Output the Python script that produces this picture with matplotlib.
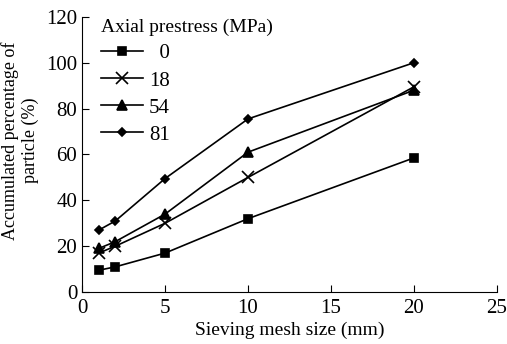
import numpy as np
import matplotlib.pyplot as plt

plt.rcParams['font.family'] = ['Liberation Serif', 'DejaVu Serif']
plt.rcParams['font.size'] = 14

# sieving mesh size (mm)
mesh = [1, 2, 5, 10, 20]

# accumulated percentage for each axial prestress
p0 = [9.5, 11, 17, 32, 58.5]
p18 = [17, 20, 30, 50, 89.5]
p54 = [19, 22, 34, 61, 88]
p81 = [27, 31, 49.5, 75.5, 100]

labels = ['  0', '18', '54', '81']
markers = ['s', 'x', '^', 'D']
sizes = [6, 8, 7, 4.5]

fig = plt.figure(figsize=(5.07, 3.44), dpi=100)
ax = fig.add_axes([0.162, 0.151, 0.818, 0.80])

for y, lab, m, s in zip([p0, p18, p54, p81], labels, markers, sizes):
    ax.plot(mesh, y, color='black', lw=1.2, marker=m, ms=s,
            mew=1.2, label=lab)

ax.set_xlim(0, 25)
ax.set_ylim(0, 120)
ax.set_xticks([0, 5, 10, 15, 20, 25])
ax.set_yticks([0, 20, 40, 60, 80, 100, 120])
ax.spines['top'].set_visible(False)
ax.spines['right'].set_visible(False)
ax.tick_params(direction='in', length=5, labelsize=15)
ax.tick_params(axis='x', pad=5)

ax.set_xlabel('Sieving mesh size (mm)', fontsize=14, labelpad=3)
ax.set_ylabel('Accumulated percentage of\nparticle (%)', fontsize=13,
              linespacing=1.15)
ax.yaxis.set_label_coords(-0.105, 0.55)

leg = ax.legend(title='Axial prestress (MPa)', loc='upper left',
                bbox_to_anchor=(0.0, 1.06), frameon=False, fontsize=15,
                title_fontsize=14, handlelength=2.0, labelspacing=0.36,
                handletextpad=0.3)
leg._legend_box.align = 'left'

plt.savefig('out.png', dpi=100)
